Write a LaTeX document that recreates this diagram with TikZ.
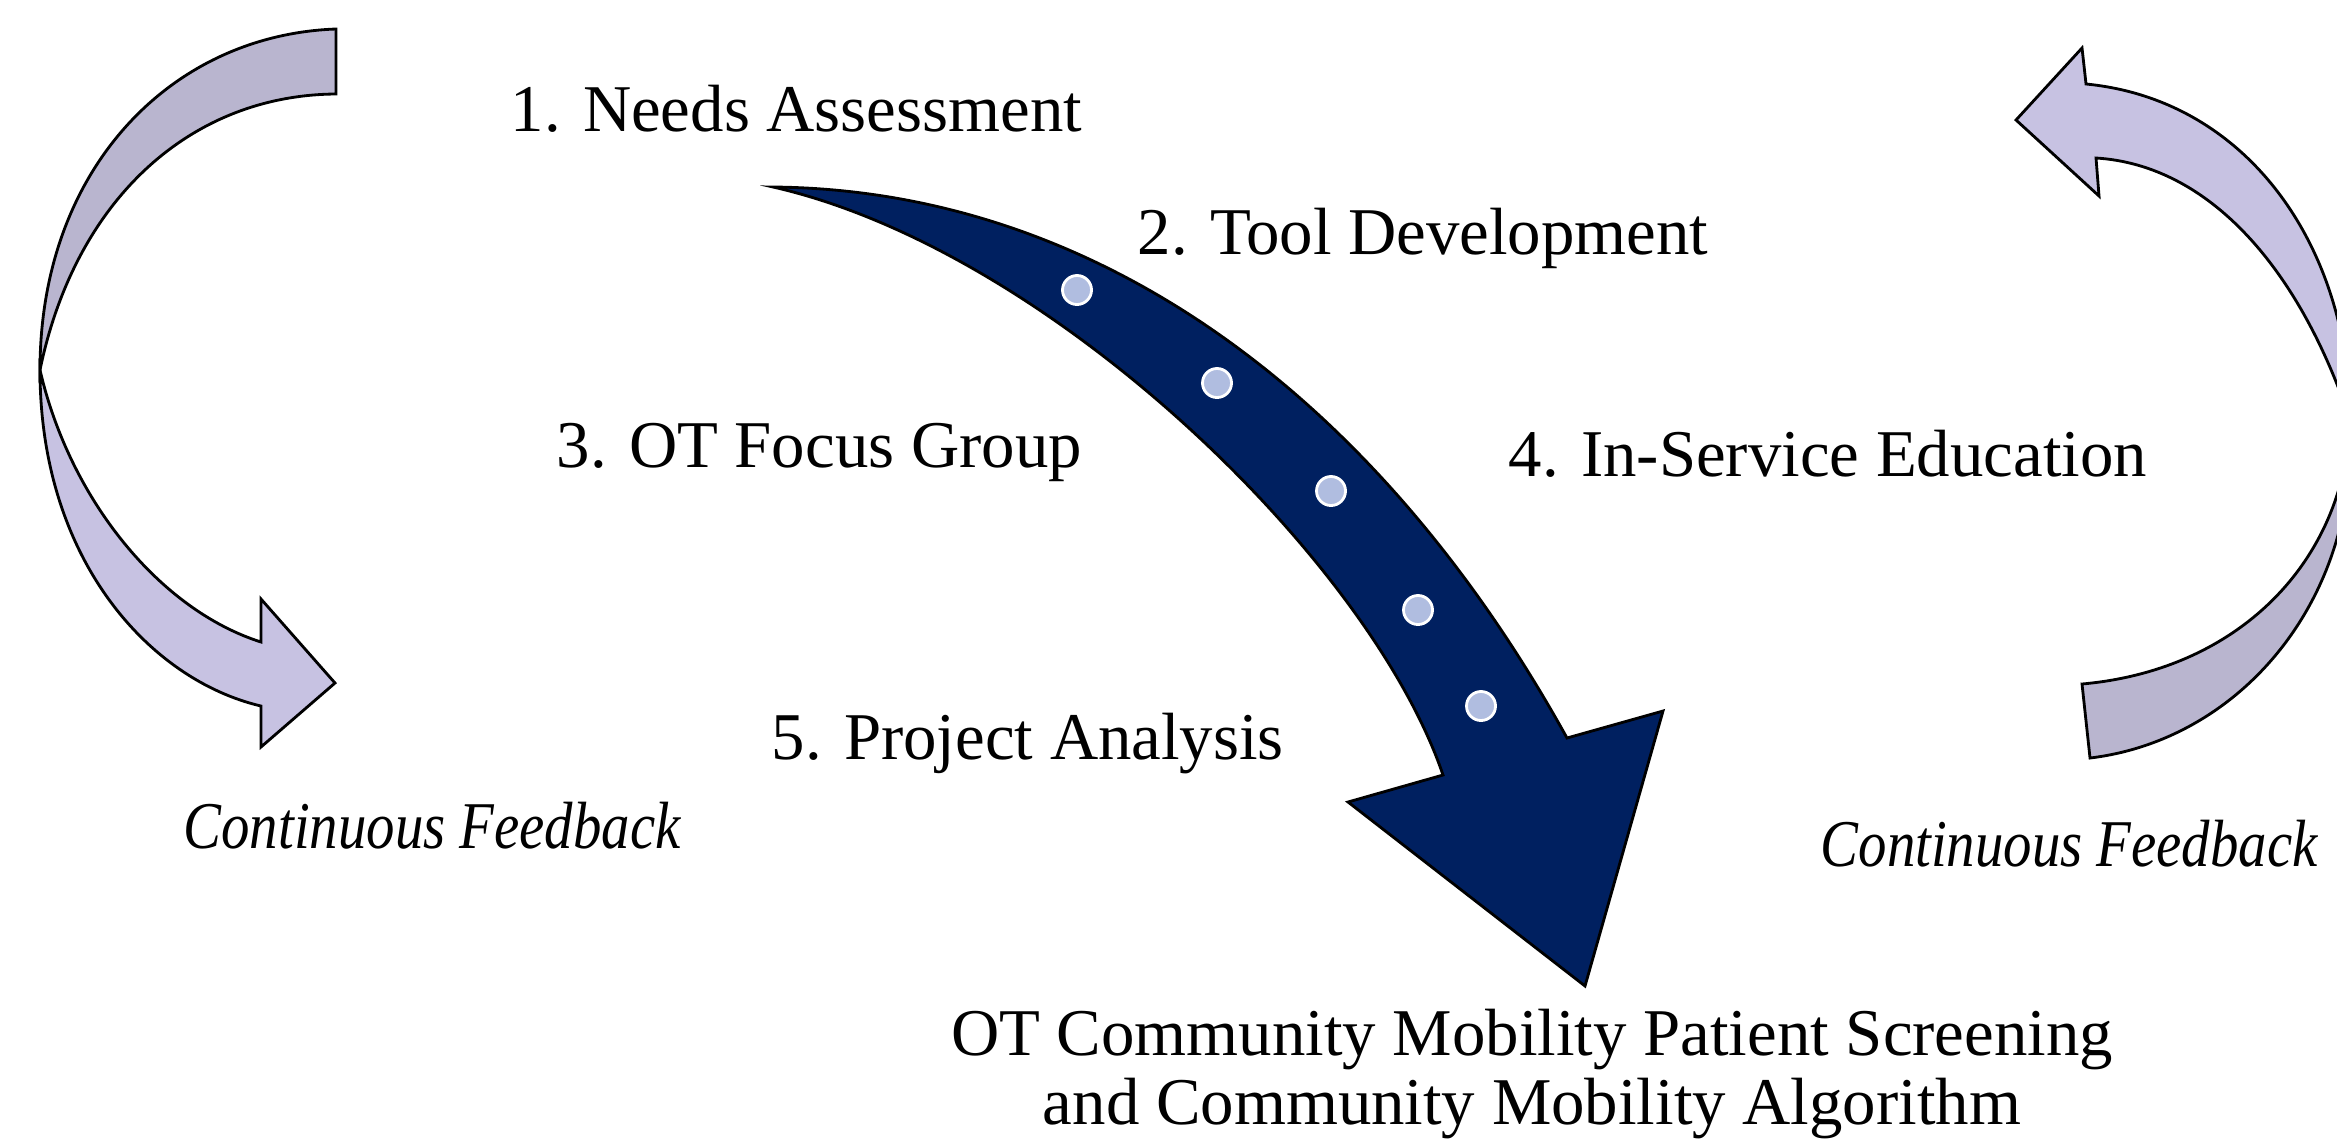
\documentclass[tikz,border=0pt]{standalone}
\usepackage{fontspec}
\setmainfont{Liberation Serif}
\newfontfamily\feedbackfont[FakeStretch=0.85]{Liberation Serif}
\usepackage{tikz}
\definecolor{navy}{RGB}{0,32,96}
\definecolor{lilacdark}{RGB}{185,181,207}
\definecolor{lilaclight}{RGB}{199,194,226}
\definecolor{dotblue}{RGB}{176,189,224}

\begin{document}
\begin{tikzpicture}[x=0.01cm, y=-0.01cm,
    stage/.style={anchor=base west, inner sep=0pt, font=\fontsize{19}{23}\selectfont},
    feedback/.style={anchor=base west, inner sep=0pt, font=\feedbackfont\itshape\fontsize{19}{23}\selectfont},
    outcome/.style={anchor=base, inner sep=0pt, align=center, font=\fontsize{19}{19.6}\selectfont},
    ribbon/.style={draw=black, line width=0.8pt, line join=miter},
    stagedot/.style={circle, fill=dotblue, draw=white, line width=0.8pt, inner sep=0pt, minimum size=0.29cm}]
		%%%%% START %%%%%
		\useasboundingbox (0,0) rectangle (2337,1142);

		% left feedback loop, upper fold then lower fold with head
		\draw[ribbon, fill=lilacdark] (336,29) .. controls (170,35) and (40,170) .. (40,370)
			.. controls (75,200) and (190,95) .. (336,94) -- cycle;
		\draw[ribbon, fill=lilaclight] (40,370) .. controls (40,560) and (150,680) .. (261,706)
			-- (261,747) -- (335,683) -- (261,599) -- (261,642)
			.. controls (160,610) and (70,500) .. (40,370) -- cycle;

		% right feedback loop, runs off the right edge
		\draw[ribbon, fill=lilaclight] (2086,84) .. controls (2250,100) and (2350,250) .. (2350,420)
			.. controls (2300,270) and (2210,165) .. (2096,158)
			-- (2099,196) -- (2016,120) -- (2082,48) -- cycle;
		\draw[ribbon, fill=lilacdark] (2350,420) .. controls (2360,600) and (2240,740) .. (2090,758)
			-- (2082,684) .. controls (2240,670) and (2345,560) .. (2350,420) -- cycle;

		% big process arrow
		\draw[ribbon, fill=navy] (773,187) .. controls (1100,190) and (1380,400) .. (1567,738)
			-- (1663,711) -- (1585,986) -- (1348,802) -- (1443,775)
			.. controls (1370,560) and (1050,250) .. (773,187) -- cycle;
		\foreach \p [count=\i] in {(1077,290),(1217,383),(1331,491),(1418,610),(1481,706)}
			\node[stagedot] (dot\i) at \p {};

		% the five stages
		\node[stage] (needs) at (510,131) {1. Needs Assessment};
		\node[stage] (tool) at (1137,254) {2. Tool Development};
		\node[stage] (focus) at (556,467) {3. OT Focus Group};
		\node[stage] (service) at (1508,476) {4. In-Service Education};
		\node[stage] (analysis) at (771,759) {5. Project Analysis};

		\node[feedback] (feedleft) at (183,848) {Continuous Feedback};
		\node[feedback] (feedright) at (1820,866) {Continuous Feedback};

		% anchor base sits on the last line
		\node[outcome] (result) at (1532,1124) {OT Community Mobility Patient Screening\\and Community Mobility Algorithm};
		%%%%% END %%%%%
\end{tikzpicture}
\end{document}
